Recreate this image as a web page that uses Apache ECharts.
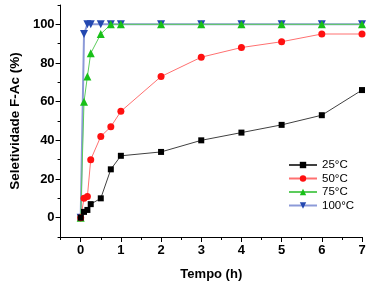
<!DOCTYPE html>
<html><head><meta charset="utf-8">
<script src="https://cdn.jsdelivr.net/npm/echarts@6/dist/echarts.min.js"></script>
<style>html,body{margin:0;padding:0;background:#fff}#c{width:371px;height:287px}</style>
</head><body><div id="c"></div>
<script>
const times = [0, 0.083, 0.167, 0.25, 0.5, 0.75, 1, 2, 3, 4, 5, 6, 7];
const s25 = [0, 3, 4, 7, 10, 25, 32, 34, 40, 44, 48, 53, 66];
const s50 = [0, 10, 11, 30, 42, 47, 55, 73, 83, 88, 91, 95, 95];
const s75 = [0, 60, 73, 85, 95, 100, 100, 100, 100, 100, 100, 100, 100];
const s100 = [0, 95, 100, 100, 100, 100, 100, 100, 100, 100, 100, 100, 100];
const xTicks = [0, 1, 2, 3, 4, 5, 6, 7];
const xMinor = [-0.5, 0.5, 1.5, 2.5, 3.5, 4.5, 5.5, 6.5];
const yTicks = [0, 20, 40, 60, 80, 100];
const yMinor = [-10, 10, 30, 50, 70, 90, 110];

const pair = (ys) => times.map((t, i) => [t, ys[i]]);
const font = 'Liberation Sans, Arial, sans-serif';
const chart = echarts.init(document.getElementById('c'), null, {renderer: 'canvas'});
const axisLine = {show: true, onZero: false, lineStyle: {color: '#000', width: 1}};
const noLine = {show: false, onZero: false};
chart.setOption({
  animation: false,
  grid: {left: 58, right: 9, top: 5, bottom: 50, containLabel: false},
  xAxis: [{
    type: 'value', min: -0.5, max: 7,
    name: 'Tempo (h)', nameLocation: 'middle', nameGap: 31,
    nameTextStyle: {fontFamily: font, fontWeight: 'bold', fontSize: 13, color: '#000'},
    axisLine: axisLine,
    axisTick: {show: true, inside: false, length: 5, customValues: xTicks, lineStyle: {color: '#000'}},
    axisLabel: {customValues: xTicks, fontFamily: font, fontWeight: 'bold', fontSize: 13, color: '#000', margin: 7},
    splitLine: {show: false}
  }, {
    type: 'value', min: -0.5, max: 7, position: 'bottom',
    axisLine: noLine,
    axisTick: {show: true, inside: false, length: 3, customValues: xMinor, lineStyle: {color: '#000'}},
    axisLabel: {show: false},
    splitLine: {show: false}
  }],
  yAxis: [{
    type: 'value', min: -10, max: 110,
    name: 'Seletividade F-Ac (%)', nameLocation: 'middle', nameGap: 36, nameRotate: 90,
    nameTextStyle: {fontFamily: font, fontWeight: 'bold', fontSize: 13.5, color: '#000'},
    axisLine: axisLine,
    axisTick: {show: true, inside: false, length: 5, customValues: yTicks, lineStyle: {color: '#000'}},
    axisLabel: {customValues: yTicks, fontFamily: font, fontWeight: 'bold', fontSize: 13, color: '#000', margin: 6},
    splitLine: {show: false}
  }, {
    type: 'value', min: -10, max: 110, position: 'left',
    axisLine: noLine,
    axisTick: {show: true, inside: false, length: 3, customValues: yMinor, lineStyle: {color: '#000'}},
    axisLabel: {show: false},
    splitLine: {show: false}
  }],
  legend: {
    orient: 'vertical', left: 288, top: 159, padding: 0, itemWidth: 28, itemHeight: 8, itemGap: 1.5,
    textStyle: {fontFamily: font, fontSize: 11.5, color: '#000', lineHeight: 12},
    data: ['25°C', '50°C', '75°C', '100°C']
  },
  series: [
    {name: '100°C', type: 'line', data: pair(s100), symbol: 'triangle', symbolRotate: 180, symbolSize: 8,
     lineStyle: {color: '#8c9ad8', width: 2}, itemStyle: {color: '#2448b0'}, z: 2},
    {name: '75°C', type: 'line', data: pair(s75), symbol: 'triangle', symbolSize: 8,
     lineStyle: {color: '#5ccc5c', width: 1}, itemStyle: {color: '#18c018'}, z: 3},
    {name: '50°C', type: 'line', data: pair(s50), symbol: 'circle', symbolSize: 7,
     lineStyle: {color: '#ff7070', width: 1}, itemStyle: {color: '#ff1010'}, z: 4},
    {name: '25°C', type: 'line', data: pair(s25), symbol: 'rect', symbolSize: 6,
     lineStyle: {color: '#404040', width: 1}, itemStyle: {color: '#000'}, z: 5}
  ]
});
</script></body></html>
